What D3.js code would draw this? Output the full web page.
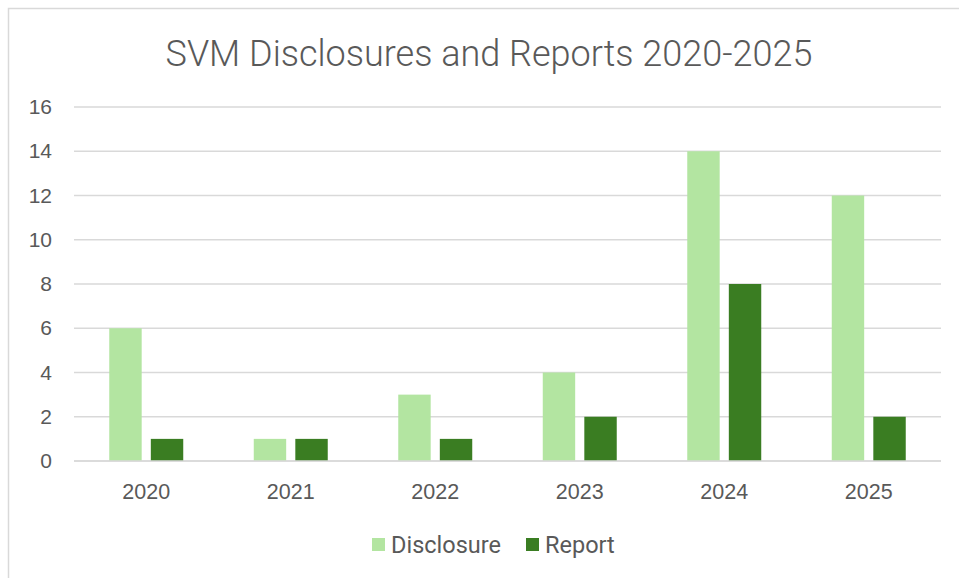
<!DOCTYPE html>
<html>
<head>
<meta charset="utf-8">
<script src="https://cdn.jsdelivr.net/npm/d3@7"></script>
<style>
  body { margin: 0; background: #fff; }
  text { font-family: "Liberation Sans", Arial, sans-serif; fill: #595959; }
</style>
</head>
<body>
<div id="chart"></div>
<script>
const years = ['2020', '2021', '2022', '2023', '2024', '2025']
const series = ['Disclosure', 'Report']
const disclosure = [6, 1, 3, 4, 14, 12]
const report = [1, 1, 1, 2, 8, 2]
const yTicks = [0, 2, 4, 6, 8, 10, 12, 14, 16]

const colors = { Disclosure: '#b3e5a1', Report: '#3a7d22' }

const width = 959, height = 578
const margin = { left: 74, right: 18, top: 107, bottom: 117 }

var svg = d3.select('#chart')
  .append('svg')
  .attr('width', width)
  .attr('height', height)

// chart frame
svg.append('rect')
  .attr('x', 8.5).attr('y', 8.5)
  .attr('width', width).attr('height', height)
  .attr('fill', 'none')
  .attr('stroke', '#d9d9d9')
  .attr('stroke-width', 1.5)

svg.append('text')
  .attr('x', 489)
  .attr('y', 66)
  .attr('text-anchor', 'middle')
  .style('font-family', 'Roboto, sans-serif')
  .style('font-size', '36px')
  .style('font-weight', 300)
  .text('SVM Disclosures and Reports 2020-2025')

var x0 = d3.scaleBand()
  .domain(years)
  .range([margin.left, width - margin.right])
  .paddingInner(0.488)
  .paddingOuter(0.244)

var x1 = d3.scaleBand()
  .domain(series)
  .range([0, x0.bandwidth()])
  .paddingInner(0.22)

var y = d3.scaleLinear()
  .domain([0, 16])
  .range([height - margin.bottom, margin.top])

// gridlines
svg.append('g')
  .selectAll('line')
  .data(yTicks)
  .enter()
  .append('line')
  .attr('x1', margin.left)
  .attr('x2', width - margin.right)
  .attr('y1', d => y(d))
  .attr('y2', d => y(d))
  .attr('stroke', '#d9d9d9')
  .attr('stroke-width', 1.5)

var yAxis = d3.axisLeft(y)
  .tickValues(yTicks)
  .tickSize(0)
  .tickPadding(22)

svg.append('g')
  .attr('transform', 'translate(' + (margin.left) + ',0)')
  .call(yAxis)
  .call(g => g.select('.domain').remove())
  .selectAll('text')
  .style('font-size', '21px')
  .style('fill', '#595959')

var xAxis = d3.axisBottom(x0)
  .tickSize(0)
  .tickPadding(23)

svg.append('g')
  .attr('transform', 'translate(0,' + y(0) + ')')
  .call(xAxis)
  .call(g => g.select('.domain').remove())
  .selectAll('text')
  .style('font-size', '21.5px')
  .style('fill', '#595959')

var rows = years.map((yr, i) => ({ year: yr, Disclosure: disclosure[i], Report: report[i] }))

svg.append('g')
  .selectAll('g')
  .data(rows)
  .enter()
  .append('g')
  .attr('transform', d => 'translate(' + x0(d.year) + ',0)')
  .selectAll('rect')
  .data(d => series.map(s => ({ key: s, value: d[s] })))
  .enter()
  .append('rect')
  .attr('x', d => x1(d.key))
  .attr('y', d => y(d.value))
  .attr('width', x1.bandwidth())
  .attr('height', d => y(0) - y(d.value))
  .attr('fill', d => colors[d.key])

// redraw baseline above bars
svg.append('line')
  .attr('x1', margin.left)
  .attr('x2', width - margin.right)
  .attr('y1', y(0))
  .attr('y2', y(0))
  .attr('stroke', '#d9d9d9')
  .attr('stroke-width', 1.5)

var legendItems = [
  { key: 'Disclosure', x: 372 },
  { key: 'Report', x: 526 }
]

var legend = svg.append('g').attr('class', 'legend')

legend.selectAll('rect')
  .data(legendItems)
  .enter()
  .append('rect')
  .attr('x', d => d.x)
  .attr('y', 538)
  .attr('width', 13)
  .attr('height', 13)
  .attr('fill', d => colors[d.key])

legend.selectAll('text')
  .data(legendItems)
  .enter()
  .append('text')
  .attr('x', d => d.x + 19)
  .attr('y', 553)
  .style('font-family', 'Roboto, sans-serif')
  .style('font-size', '23.5px')
  .text(d => d.key)
</script>
</body>
</html>
